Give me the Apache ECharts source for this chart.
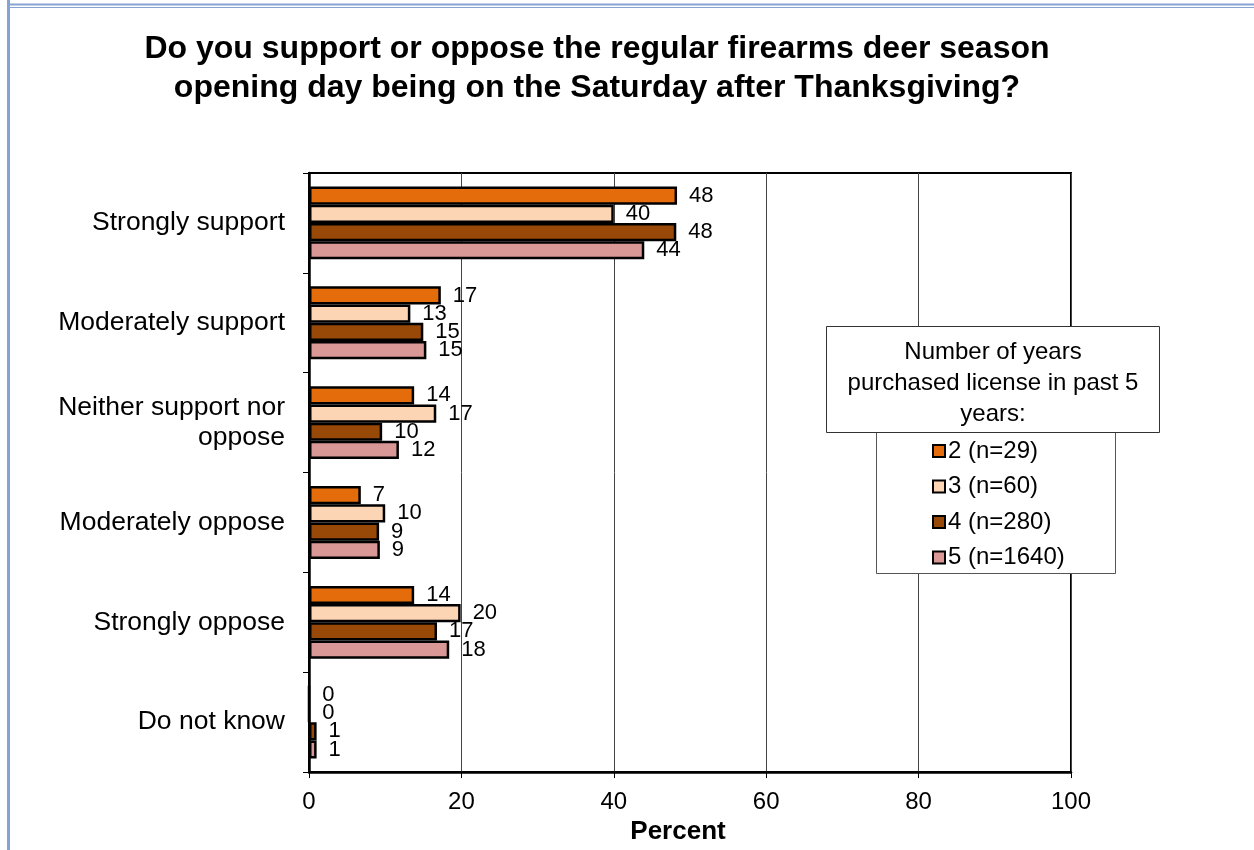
<!DOCTYPE html>
<html>
<head>
<meta charset="utf-8">
<script src="https://cdn.jsdelivr.net/npm/echarts@6/dist/echarts.min.js"></script>
<style>
html,body{margin:0;padding:0;background:#fff;}
#c{width:1254px;height:850px;}
</style>
</head>
<body>
<div id="c"></div>
<script>
var categories = ["Strongly support", "Moderately support", "Neither support nor\noppose", "Moderately oppose", "Strongly oppose", "Do not know"];
var seriesNames = ["2 (n=29)", "3 (n=60)", "4 (n=280)", "5 (n=1640)"];
var years2 = [48.3, 17.3, 13.8, 6.8, 13.8, 0];
var years3 = [40.0, 13.3, 16.7, 10.0, 19.9, 0];
var years4 = [48.2, 15.0, 9.6, 9.2, 16.8, 1.0];
var years5 = [44.0, 15.4, 11.8, 9.3, 18.4, 1.0];
var xTicks = [0, 20, 40, 60, 80, 100];
var colors = ["#E46C0A", "#FCD5B5", "#984807", "#D99795"];

var chart = echarts.init(document.getElementById('c'));
var font = 'Liberation Sans, Arial, sans-serif';
var allData = [years2, years3, years4, years5];

var series = allData.map(function (d, i) {
  return {
    name: seriesNames[i],
    type: 'bar',
    data: d,
    barGap: '0%',
    barCategoryGap: '27%',
    itemStyle: { color: colors[i], borderColor: '#000', borderWidth: 2.5 },
    label: {
      show: true, position: 'right', distance: 12,
      color: '#000', fontFamily: font, fontSize: 22,
      formatter: function (p) { return Math.round(p.value); }
    }
  };
});

chart.setOption({
  animation: false,
  backgroundColor: '#fff',
  title: {
    text: 'Do you support or oppose the regular firearms deer season\nopening day being on the Saturday after Thanksgiving?',
    left: 592, top: 25, textAlign: 'center',
    textStyle: { fontFamily: font, fontWeight: 'bold', fontSize: 32, lineHeight: 39, color: '#000' }
  },
  grid: { left: 309, right: 183, top: 173, bottom: 77, show: true, borderColor: '#000', borderWidth: 2, backgroundColor: 'transparent' },
  xAxis: {
    type: 'value', min: 0, max: 100, interval: 20,
    name: 'Percent', nameLocation: 'middle', nameGap: 42,
    nameTextStyle: { fontFamily: font, fontWeight: 'bold', fontSize: 26, color: '#000', padding: [0, 24, 0, 0] },
    axisLine: { show: true, lineStyle: { color: '#000', width: 2.5 } },
    axisTick: { show: true, length: 6, lineStyle: { color: '#000' } },
    axisLabel: { fontFamily: font, fontSize: 24, color: '#000', margin: 18 },
    splitLine: { show: true, lineStyle: { color: '#444', width: 1 } }
  },
  yAxis: {
    type: 'category', data: categories, inverse: true,
    axisLine: { show: true, lineStyle: { color: '#000', width: 2.5 } },
    axisTick: { show: true, length: 6, lineStyle: { color: '#000' } },
    axisLabel: { fontFamily: font, fontSize: 26.5, color: '#000', margin: 24, lineHeight: 30, align: 'right' },
    splitLine: { show: false }
  },
  legend: {
    orient: 'vertical', left: 927, top: 434,
    data: seriesNames,
    icon: 'rect', itemWidth: 12, itemHeight: 12, itemGap: 11.5,
    itemStyle: { borderColor: '#000', borderWidth: 2 },
    textStyle: { fontFamily: font, fontSize: 24, color: '#000', lineHeight: 24, padding: [0, 0, 0, -2] }
  },
  graphic: [
    { type: 'line', shape: { x1: 8.5, y1: 0, x2: 8.5, y2: 850 }, style: { stroke: '#86A3D3', lineWidth: 3 }, z: 100 },
    { type: 'line', shape: { x1: 8, y1: 4.5, x2: 1254, y2: 4.5 }, style: { stroke: '#86A3D3', lineWidth: 2 }, z: 100 },
    { type: 'line', shape: { x1: 10, y1: 7.5, x2: 1254, y2: 7.5 }, style: { stroke: '#86A3D3', lineWidth: 1 }, z: 100 },
    { type: 'rect', shape: { x: 876.5, y: 431.5, width: 239, height: 142 }, style: { fill: '#fff', stroke: '#555', lineWidth: 1 }, z: 1 },
    { type: 'rect', shape: { x: 826.5, y: 326.5, width: 333, height: 106 }, style: { fill: '#fff', stroke: '#333', lineWidth: 1 }, z: 1 },
    { type: 'text', x: 993, y: 383, z: 2, style: { text: 'Number of years\npurchased license in past 5\nyears:', fontFamily: font, fontSize: 24, lineHeight: 31, fill: '#000', textAlign: 'center', textVerticalAlign: 'middle' } }
  ],
  series: series
});
</script>
</body>
</html>
